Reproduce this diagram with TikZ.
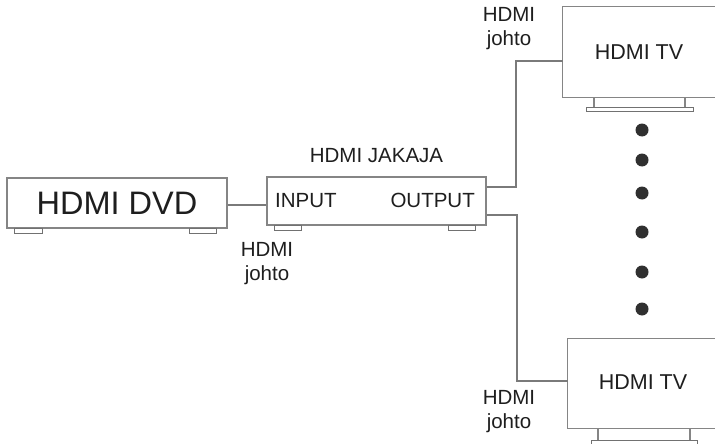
\documentclass[tikz,border=0pt]{standalone}
\usepackage{fontspec}
\setmainfont{Liberation Sans}
\definecolor{boxc}{HTML}{858585}
\definecolor{linec}{HTML}{7A7A7A}
\definecolor{txtc}{HTML}{1E1E1E}
\definecolor{dotc}{HTML}{303030}
\definecolor{footc}{HTML}{FFFFFF}
\begin{document}
\begin{tikzpicture}[x=1pt,y=-1pt,
  box/.style={draw=boxc, line width=1.2pt, inner sep=0pt, fill=white},
  foot/.style={draw=boxc!85!black, line width=1pt, fill=footc},
  cable/.style={draw=linec, line width=1.5pt},
  lbl/.style={text=txtc, font=\fontsize{20.5}{24}\selectfont, inner sep=0pt},
  tvtext/.style={text=txtc, font=\fontsize{21.5}{25}\selectfont, inner sep=0pt},
  dotmark/.style={fill=dotc}]
\useasboundingbox (0,0) rectangle (715,444);
\fill[white] (0,0) rectangle (715,444);

% DVD player
\node[box, minimum width=220pt, minimum height=50pt, text=txtc,
      font=\fontsize{32.5}{38}\selectfont] (dvd) at (117,203) {HDMI DVD};
\draw[foot] (14,228.5) rectangle (42,233);
\draw[foot] (189,228.5) rectangle (216,233);

% Splitter
\node[box, minimum width=219pt, minimum height=48pt] (split) at (376.5,201) {};
\draw[foot] (274,225.5) rectangle (301,230.5);
\draw[foot] (448,225.5) rectangle (475,230.5);
\node[lbl, anchor=base west] (inp) at (275,207.7) {INPUT};
\node[lbl, anchor=base east] (outp) at (475,207.7) {OUTPUT};
\node[lbl, anchor=base] (jak) at (376.5,162.7) {HDMI JAKAJA};

% TV 1 (cut off at right edge)
\node[minimum width=152pt, minimum height=90pt, inner sep=0pt] (tv1) at (639,52) {};
\draw[boxc, line width=1.2pt] (tv1.north east) -- (tv1.north west) -- (tv1.south west) -- (tv1.south east);
\draw[boxc, line width=1.2pt] (594,97) -- (594,107) (685,97) -- (685,107);
\draw[foot] (586,107) rectangle (693,111.5);
\node[tvtext, anchor=base] (tv1t) at (639,59.3) {HDMI TV};

% TV 2 (cut off at right and bottom)
\node[minimum width=147pt, minimum height=89pt, inner sep=0pt] (tv2) at (641.5,383.5) {};
\draw[boxc, line width=1.2pt] (tv2.north east) -- (tv2.north west) -- (tv2.south west) -- (tv2.south east);
\draw[boxc, line width=1.2pt] (598,428) -- (598,440) (690,428) -- (690,440);
\draw[foot] (591,440) rectangle (697,445);
\node[tvtext, anchor=base] (tv2t) at (643,389) {HDMI TV};

% dots
\foreach \yy in {130,160,193,232,272,309}
  \fill[dotmark] (642,\yy) circle (6.5pt);

% cables
\draw[cable] (dvd.east |- 0,205) -- (split.west |- 0,205);
\draw[cable] (split.east |- 0,187) -- (516,187) |- (tv1.west |- 0,61);
\draw[cable] (split.east |- 0,215) -- (517,215) |- (tv2.west |- 0,381);

% labels
\node[lbl, anchor=north, align=center] (l1) at (267,242) {HDMI\\johto};
\node[lbl, anchor=north, align=center] (l2) at (509,7.5) {HDMI\\johto};
\node[lbl, anchor=north, align=center] (l3) at (509,390.5) {HDMI\\johto};
\end{tikzpicture}
\end{document}
